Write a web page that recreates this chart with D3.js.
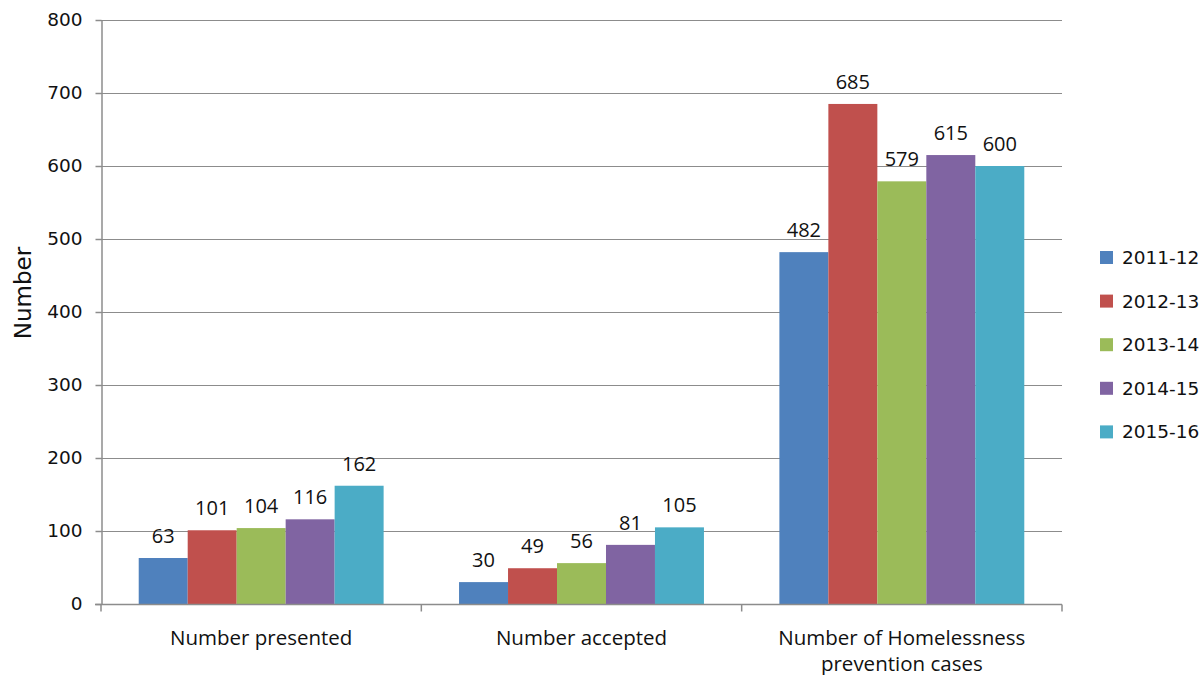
<!DOCTYPE html>
<html>
<head>
<meta charset="utf-8">
<script src="https://cdn.jsdelivr.net/npm/d3@7"></script>
<style>
  body { margin: 0; background: #fff; }
  svg { display: block; }
</style>
</head>
<body>
<svg id="chart" width="1202" height="675"></svg>
<script>
// Data
var categories = ["Number presented", "Number accepted", "Number of Homelessness prevention cases"];
var years = ["2011-12", "2012-13", "2013-14", "2014-15", "2015-16"];
var values2011 = [63, 30, 482];
var values2012 = [101, 49, 685];
var values2013 = [104, 56, 579];
var values2014 = [116, 81, 615];
var values2015 = [162, 105, 600];
var yTicks = [0, 100, 200, 300, 400, 500, 600, 700, 800];

var series = [values2011, values2012, values2013, values2014, values2015];
var colors = ["#4F81BD", "#C0504D", "#9BBB59", "#8064A2", "#4BACC6"];

var margin = { left: 101, top: 20, right: 1062, bottom: 604 };
var svg = d3.select("#chart");

var x = d3.scaleBand().domain(categories).range([margin.left, margin.right]);
var xInner = d3.scaleBand().domain(years).range([0, x.bandwidth()]).paddingOuter(0.77);
var y = d3.scaleLinear().domain([0, 800]).range([margin.bottom, margin.top]);

// Gridlines
svg.append("g").selectAll("line").data(yTicks.slice(1)).enter().append("line")
    .attr("x1", margin.left).attr("x2", margin.right)
    .attr("y1", function (d) { return y(d) + 0.5; })
    .attr("y2", function (d) { return y(d) + 0.5; })
    .attr("stroke", "#8c8c8c").attr("stroke-width", 1.2);

// Bars
var groups = svg.append("g").selectAll("g").data(categories).enter().append("g")
    .attr("transform", function (d) { return "translate(" + x(d) + ",0)"; });

groups.selectAll("rect").data(function (d, i) {
        return years.map(function (yr, j) { return { year: yr, value: series[j][i], idx: j }; });
    }).enter().append("rect")
    .attr("x", function (d) { return xInner(d.year); })
    .attr("width", xInner.bandwidth())
    .attr("y", function (d) { return y(d.value); })
    .attr("height", function (d) { return y(0) - y(d.value); })
    .attr("fill", function (d) { return colors[d.idx]; });

// Data labels
groups.selectAll("text").data(function (d, i) {
        return years.map(function (yr, j) { return { year: yr, value: series[j][i] }; });
    }).enter().append("text")
    .attr("x", function (d) { return xInner(d.year) + xInner.bandwidth() / 2; })
    .attr("y", function (d) { return y(d.value) - 15; })
    .attr("text-anchor", "middle")
    .attr("font-family", "'Open Sans', sans-serif")
    .attr("font-size", 20)
    .attr("fill", "#111")
    .text(function (d) { return d.value; });

// Y axis
var yAxis = svg.append("g")
    .attr("transform", "translate(" + (margin.left + 0.5) + ",0)")
    .call(d3.axisLeft(y).tickValues(yTicks).tickSize(6).tickPadding(13).tickSizeOuter(0));
yAxis.select(".domain").attr("stroke", "#8c8c8c").attr("stroke-width", 1.5);
yAxis.selectAll(".tick line").attr("stroke", "#8c8c8c").attr("stroke-width", 1.5);
yAxis.selectAll("text")
    .attr("font-family", "'DejaVu Sans', Verdana, sans-serif")
    .attr("font-size", 18.5).attr("fill", "#111");

// X axis
var xAxis = svg.append("g")
    .attr("transform", "translate(0," + (margin.bottom + 0.5) + ")");
xAxis.append("line")
    .attr("x1", margin.left - 6).attr("x2", margin.right)
    .attr("stroke", "#8c8c8c").attr("stroke-width", 1.5);
xAxis.selectAll("line.tk").data([margin.left, x(categories[1]), x(categories[2]), margin.right])
    .enter().append("line").attr("class", "tk")
    .attr("x1", function (d) { return d; }).attr("x2", function (d) { return d; })
    .attr("y1", 0).attr("y2", 7)
    .attr("stroke", "#8c8c8c").attr("stroke-width", 1.5);

var catLines = [["Number presented"], ["Number accepted"], ["Number of Homelessness", "prevention cases"]];
xAxis.selectAll("text.cat").data(categories).enter().append("text")
    .attr("class", "cat")
    .attr("text-anchor", "middle")
    .attr("font-family", "'Open Sans', sans-serif")
    .attr("font-size", 20.5)
    .attr("fill", "#111")
    .each(function (d, i) {
        var t = d3.select(this);
        catLines[i].forEach(function (line, k) {
            t.append("tspan")
                .attr("x", x(d) + x.bandwidth() / 2)
                .attr("y", 40 + k * 26)
                .text(line);
        });
    });

// Y axis title
svg.append("text")
    .attr("transform", "translate(31,293) rotate(-90)")
    .attr("text-anchor", "middle")
    .attr("font-family", "'DejaVu Sans', Verdana, sans-serif")
    .attr("font-size", 23)
    .attr("fill", "#111")
    .text("Number");

// Legend
var legend = svg.append("g").selectAll("g").data(years).enter().append("g")
    .attr("transform", function (d, i) { return "translate(1100," + (251 + i * 43.6) + ")"; });
legend.append("rect").attr("width", 13).attr("height", 13)
    .attr("fill", function (d, i) { return colors[i]; });
legend.append("text")
    .attr("x", 22).attr("y", 13)
    .attr("font-family", "'DejaVu Sans', Verdana, sans-serif")
    .attr("font-size", 18.5)
    .attr("fill", "#111")
    .text(function (d) { return d; });
</script>
</body>
</html>
